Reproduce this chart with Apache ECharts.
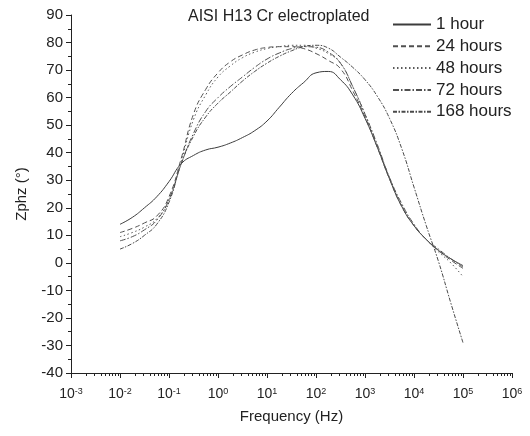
<!DOCTYPE html>
<html><head><meta charset="utf-8">
<script src="https://cdn.jsdelivr.net/npm/echarts@6/dist/echarts.min.js"></script>
<style>html,body{margin:0;padding:0;background:#fff}#c{width:530px;height:436px}</style>
</head><body><div id="c"></div>
<script>
// Frequencies (Hz), quarter-decade steps from 1e-2 to 1e5
const freqs = [0.01,0.0178,0.0316,0.0562,0.1,0.178,0.316,0.562,1,1.78,3.16,5.62,10,17.8,31.6,56.2,100,178,316,562,1000,1780,3160,5620,10000,17800,31600,56200,100000];
const h1   = [14,16.5,20,24,29.5,36,39,41,42,43.5,45.5,48,51.5,56.5,61.5,65.5,69,69.5,66.5,61,52.5,42,30.5,20.5,13.5,8.5,4.5,1.5,-1];
const h24  = [11,12.5,14.5,17,24,38,54,63,69,73,75.5,77.3,78.2,78.5,78.5,77.8,76,73.5,70.5,62.5,53,42,30.5,20.5,13.5,8.5,4.5,1,-2];
const h48  = [9.5,11,13,16,23,37,52,61,67.5,71.5,74.5,76.5,77.8,78.5,79,79,78,76,72.5,64,54,42.5,31,21,13.5,8.5,4,0,-5];
const h72  = [8,9.5,12,15.5,23,36,47,55,60,64,67.5,71,74,76.2,77.8,78.5,78.3,76.5,72.5,64,54,43,31,21.5,14,8.5,5,1.5,-1.5];
const h168 = [5,7,10,14,22,36,46,53,58,62,66,69.5,72.5,75,77,78.5,79,78,74.7,71,66.5,60.5,52.5,41.5,27.5,13.5,0.5,-14.5,-29];
const seriesNames = ['1 hour','24 hours','48 hours','72 hours','168 hours'];
const yTicks = {min:-40, max:90, step:10};
const xExpRange = {min:-3, max:6, step:1};   // decades 10^-3 .. 10^6
const minorMult = [2,3,4,5,6,7,8,9];

const allData = [h1,h24,h48,h72,h168];
const dashes = ['solid',[5,3],[1.5,2.5],[6,2,1.5,2],[4,1.5,1.5,1.5]];
const colors = ['#3c3c3c','#505050','#5a5a5a','#505050','#4a4a4a'];

const majorVals = [];
for (let d = xExpRange.min; d <= xExpRange.max; d += xExpRange.step) majorVals.push(d);
const minorVals = [];
for (let d = xExpRange.min; d < xExpRange.max; d++) for (const m of minorMult) minorVals.push(d + Math.log10(m));

function tickSeries(vals, len){
  return {type:'custom', silent:true, clip:false, z:100, zlevel:1, xAxisIndex:0, yAxisIndex:0,
    data: vals.map(v=>[v]), encode:{x:0},
    renderItem:function(params, api){
      const p = api.coord([api.value(0), yTicks.min]);
      const x = Math.round(p[0]) + 0.5, y = Math.round(p[1]);
      return {type:'line', shape:{x1:x,y1:y,x2:x,y2:y+len}, style:{stroke:'#222',lineWidth:1}};
    }};
}

const font = 'Liberation Sans, Arial, sans-serif';
const chart = echarts.init(document.getElementById('c'), null, {renderer:'canvas'});
chart.setOption({
  animation:false,
  backgroundColor:'#fff',
  title:{text:'AISI H13 Cr electroplated', left:183, top:4,
    textStyle:{fontFamily:font,fontSize:16,fontWeight:'normal',color:'#222'}},
  legend:{orient:'vertical', left:392, top:14.5, padding:0, itemWidth:38, itemHeight:14, itemGap:1.8,
    data:seriesNames, itemStyle:{opacity:0},
    textStyle:{fontFamily:font,fontSize:17,color:'#222',lineHeight:20}},
  grid:{left:71,right:18,top:15,bottom:63,containLabel:false},
  xAxis:{type:'value', min:xExpRange.min, max:xExpRange.max, interval:xExpRange.step, position:'bottom',
    name:'Frequency (Hz)', nameLocation:'middle', nameGap:36,
    nameTextStyle:{fontFamily:font,fontSize:15,color:'#222'},
    axisLine:{show:true,onZero:false,lineStyle:{color:'#222',width:1}},
    axisTick:{show:true,length:5,lineStyle:{color:'#222',width:1}},
    splitLine:{show:false},
    axisLabel:{margin:14, formatter:function(v){return '{b|10}{s|'+Math.round(v)+'}';},
      rich:{b:{fontFamily:font,fontSize:14,color:'#222'},s:{fontFamily:font,fontSize:9,color:'#222',verticalAlign:'top',padding:[0,0,6,0]}}}
  },
  yAxis:{type:'value', min:yTicks.min, max:yTicks.max, interval:yTicks.step,
    name:'Zphz (°)', nameLocation:'middle', nameGap:42, nameRotate:90,
    nameTextStyle:{fontFamily:font,fontSize:15,color:'#222'},
    axisLine:{show:true,onZero:false,lineStyle:{color:'#222',width:1}},
    axisTick:{show:true,length:5,lineStyle:{color:'#222'}},
    minorTick:{show:true,splitNumber:2,length:3,lineStyle:{color:'#222'}},
    splitLine:{show:false},
    axisLabel:{margin:8,fontFamily:font,fontSize:15,color:'#222'}},
  series: allData.map((arr,i)=>({
    name:seriesNames[i], type:'line', smooth:true, symbol:'none',
    data: freqs.map((f,j)=>[Math.log10(f),arr[j]]),
    lineStyle:{color:colors[i],width:1,type:dashes[i]},
    itemStyle:{color:colors[i]}
  })).concat([tickSeries(majorVals,5), tickSeries(minorVals,3)])
});
</script></body></html>
